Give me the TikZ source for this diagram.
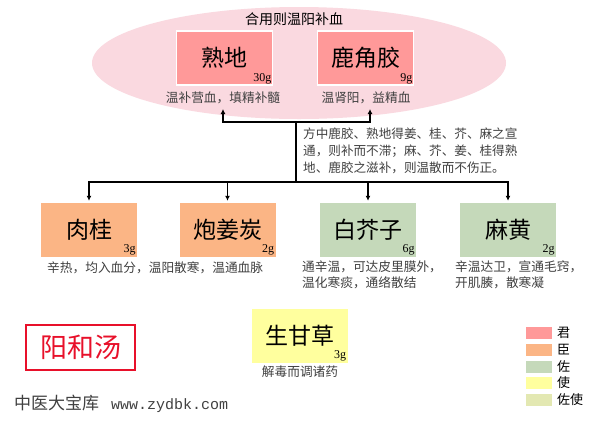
\documentclass[tikz,border=0pt]{standalone}
\usepackage{fontspec}
\setmainfont{Liberation Serif}
\setmonofont{Liberation Mono}
\newfontfamily\cjk{Noto Sans CJK SC}
\usetikzlibrary{arrows.meta}
\definecolor{jun}{HTML}{FF9999}
\definecolor{chen}{HTML}{FBB585}
\definecolor{zuo}{HTML}{C5D9BA}
\definecolor{shi}{HTML}{FFFF9E}
\definecolor{zuoshi}{HTML}{E3E8B2}
\definecolor{ellpink}{HTML}{FAD9E0}
\definecolor{captxt}{HTML}{404040}
\definecolor{fangred}{HTML}{E8102A}
\begin{document}
\begin{tikzpicture}[x=1pt,y=-1pt,
  herb/.style={minimum width=96pt,minimum height=54pt,inner sep=0pt,
    font=\cjk\fontsize{23}{25}\selectfont},
  dose/.style={anchor=south east,inner sep=1.5pt,font=\fontsize{12}{13}\selectfont},
  herbcap/.style={font=\cjk\fontsize{12.7}{16}\selectfont,text=captxt,inner sep=0pt},
  conn/.style={line width=1.2pt,black},
  arr/.style={conn,-{Latex[length=5pt,width=5pt]}},
  legbox/.style={minimum width=26pt,minimum height=12pt,inner sep=0pt},
  leglbl/.style={anchor=west,font=\cjk\fontsize{13}{14}\selectfont,inner sep=0pt}
]
\useasboundingbox (0,0) rectangle (599,424);
\fill[white] (0,0) rectangle (599,424);

% ellipse background
\fill[ellpink] (299,63) ellipse [x radius=207, y radius=56];
\node (title) [font=\cjk\fontsize{14}{15}\selectfont] at (294,19) {合用则温阳补血};

% jun herbs
\node (shudi) [herb,fill=jun,draw=white,line width=1.2pt] at (224.5,58) {熟地};
\node (shudidose) [dose] at (shudi.south east) {30g};
\node (shudicap) [herbcap] at (223,98) {温补营血，填精补髓};
\node (lujiao) [herb,fill=jun,draw=white,line width=1.2pt] at (365.5,58) {鹿角胶};
\node (lujiaodose) [dose] at (lujiao.south east) {9g};
\node (lujiaocap) [herbcap] at (366,98) {温肾阳，益精血};

% chen herbs
\node (rougui) [herb,fill=chen] at (89,230) {肉桂};
\node (rouguidose) [dose] at (rougui.south east) {3g};
\node (paojiang) [herb,fill=chen] at (227.5,230) {炮姜炭};
\node (paojiangdose) [dose] at (paojiang.south east) {2g};
\node (chencap) [herbcap,anchor=west] at (47,268) {辛热，均入血分，温阳散寒，温通血脉};

% zuo herbs
\node (baijie) [herb,fill=zuo] at (368,230) {白芥子};
\node (baijiedose) [dose] at (baijie.south east) {6g};
\node (baijiecap) [herbcap,anchor=north west,align=left] at (302,261) {通辛温，可达皮里膜外，\\温化寒痰，通络散结};
\node (mahuang) [herb,fill=zuo] at (508,230) {麻黄};
\node (mahuangdose) [dose] at (mahuang.south east) {2g};
\node (mahuangcap) [herbcap,anchor=north west,align=left] at (455,261) {辛温达卫，宣通毛窍，\\开肌腠，散寒凝};

% shi herb
\node (gancao) [herb,fill=shi] at (299.5,335.5) {生甘草};
\node (gancaodose) [dose] at (gancao.south east) {3g};
\node (gancaocap) [herbcap] at (300,372) {解毒而调诸药};

% explanation
\node (expl) [anchor=north west,align=left,inner sep=0pt,text=captxt,
  font=\cjk\fontsize{12.6}{17}\selectfont] at (303,128)
  {方中鹿胶、熟地得姜、桂、芥、麻之宣\\通，则补而不滞；麻、芥、姜、桂得熟\\地、鹿胶之滋补，则温散而不伤正。};

% connectors
\coordinate (hubtop) at (296,122);
\coordinate (hubbot) at (296,182);
\coordinate (t1) at (223,109);
\coordinate (t2) at (370,109);
\draw[conn] (hubtop) -- (hubbot);
\draw[arr] (hubtop) -| (t1);
\draw[arr] (hubtop) -| (t2);
\draw[arr,shorten >=2pt] (hubbot) -| (rougui.north);
\draw[arr,shorten >=2pt] (hubbot) -| (paojiang.north);
\draw[arr,shorten >=2pt] (hubbot) -| (baijie.north);
\draw[arr,shorten >=2pt] (hubbot) -| (mahuang.north);

% formula name
\node (fang) [draw=fangred,line width=2.8pt,text=fangred,minimum width=109pt,minimum height=45pt,
  inner sep=0pt,font=\cjk\fontsize{27}{29}\selectfont] at (80.5,347.5) {阳和汤};

% footer
\node (footer) [anchor=west,inner sep=0pt,text=captxt] at (14,404)
  {{\cjk\fontsize{17}{18}\selectfont 中医大宝库}\hspace{12pt}{\ttfamily\fontsize{15}{16}\selectfont www.zydbk.com}};

% legend
\node (lg1) [legbox,fill=jun] at (539,333) {};
\node (lg1t) [leglbl] at (557,333) {君};
\node (lg2) [legbox,fill=chen] at (539,350) {};
\node (lg2t) [leglbl] at (557,350) {臣};
\node (lg3) [legbox,fill=zuo] at (539,367) {};
\node (lg3t) [leglbl] at (557,367) {佐};
\node (lg4) [legbox,fill=shi] at (539,383) {};
\node (lg4t) [leglbl] at (557,383) {使};
\node (lg5) [legbox,fill=zuoshi] at (539,400) {};
\node (lg5t) [leglbl] at (557,400) {佐使};
\end{tikzpicture}
\end{document}
